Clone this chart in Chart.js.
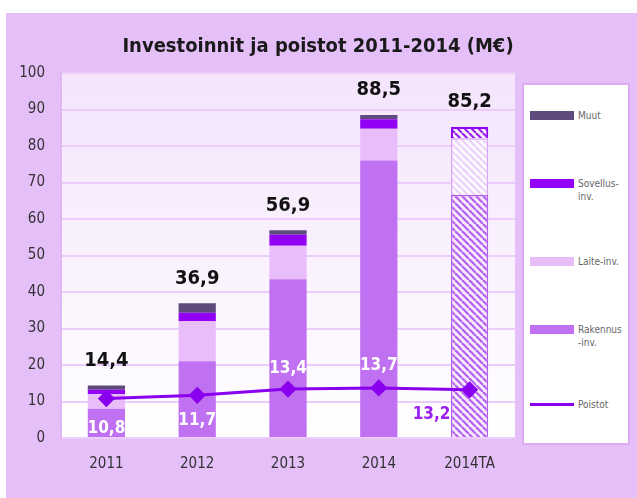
<!DOCTYPE html>
<html>
<head>
<meta charset="utf-8">
<script src="https://cdn.jsdelivr.net/npm/chart.js@4"></script>
<style>
  body { margin: 0; background: #fff; }
  #wrap { position: relative; width: 637px; height: 498px; overflow: hidden; }
  #chart { position: absolute; left: 0; top: 0; }
  #legend {
    position: absolute; left: 522px; top: 83px; width: 108px; height: 362px;
    background: #fff; border: 2px solid #dcaaf5; box-sizing: border-box;
    font-family: "Liberation Sans Narrow", "DejaVu Sans Condensed", Arial, sans-serif;
    font-size: 10px; color: #666;
  }
  .item { position: absolute; left: 6px; display: flex; align-items: flex-start; }
  .sw { width: 44px; height: 9px; margin-right: 4px; margin-top: 2px; position: relative; }
  .lbl { line-height: 13px; }
</style>
</head>
<body>
<div id="wrap">
  <canvas id="chart" width="637" height="498"></canvas>
  <div id="legend"></div>
</div>
<script>
// categories and series (M€)
const years = ['2011', '2012', '2013', '2014', '2014TA'];
const rakennus = [8.0, 21.0, 43.5, 76.0, 66.6];
const laite = [4.0, 11.0, 9.2, 8.7, 15.5];
const sovellus = [1.2, 2.3, 3.0, 2.6, 3.1];
const muut = [1.2, 2.6, 1.2, 1.2, 0];
const poistot = [10.8, 11.7, 13.4, 13.7, 13.2];
const totals = [14.4, 36.9, 56.9, 88.5, 85.2];
const yTicks = [0, 10, 20, 30, 40, 50, 60, 70, 80, 90, 100];
const titleText = 'Investoinnit ja poistot 2011-2014 (M€)';

const narrow = '"Liberation Sans Narrow", "DejaVu Sans Condensed", Arial, sans-serif';

const colRak = '#c071f2';
const colLaite = '#e9bdf9';
const colSov = '#9200f5';
const colMuut = '#5e4a7c';
const colLine = '#8a00ee';

function stripes(fg, bg) {
    const c = document.createElement('canvas');
    c.width = 7; c.height = 7;
    const g = c.getContext('2d');
    g.fillStyle = bg;
    g.fillRect(0, 0, 7, 7);
    g.strokeStyle = fg;
    g.lineWidth = 2.2;
    for (let k = -7; k <= 7; k += 7) {
        g.beginPath();
        g.moveTo(k, 0);
        g.lineTo(k + 7, 7);
        g.stroke();
    }
    return g.createPattern(c, 'repeat');
}

function withLast(arr, last) {
    return arr.map((v, i) => i === arr.length - 1 ? last : v);
}

const hatchRak = stripes('#b65ef0', '#f6eafd');
const hatchLaite = stripes('#ecd0fa', '#fdfaff');
const hatchSov = stripes('#9a20f2', '#fbf4ff');

// lavender frame, plot background and title
const bgPlugin = {
    id: 'bg',
    beforeDraw(chart) {
        const ctx = chart.ctx;
        const a = chart.chartArea;
        ctx.save();
        ctx.fillStyle = '#e5bff8';
        ctx.fillRect(6, 13, 631, 485);
        const grad = ctx.createLinearGradient(0, a.top, 0, a.bottom);
        grad.addColorStop(0, '#f4e4fc');
        grad.addColorStop(1, '#ffffff');
        ctx.fillStyle = grad;
        ctx.fillRect(a.left, a.top, a.right - a.left, a.bottom - a.top);
        ctx.fillStyle = '#1a1a1a';
        ctx.font = 'bold 20px ' + narrow;
        ctx.textAlign = 'center';
        ctx.textBaseline = 'middle';
        ctx.fillText(titleText, 318, 47);
        ctx.restore();
    }
};

// value labels: totals above the bars, poistot near the line
const poistoOffsets = [[0, 30], [0, 25], [0, -21], [0, -22], [-38, 25]];
const labelPlugin = {
    id: 'labels',
    afterDatasetsDraw(chart) {
        const ctx = chart.ctx;
        const x = chart.scales.x;
        const y = chart.scales.y;
        ctx.save();
        ctx.textAlign = 'center';
        ctx.textBaseline = 'middle';
        ctx.font = 'bold 20px ' + narrow;
        ctx.fillStyle = '#111';
        totals.forEach((t, i) => {
            ctx.fillText(t.toFixed(1).replace('.', ','), x.getPixelForValue(i), y.getPixelForValue(t) - 25);
        });
        ctx.font = 'bold 17px ' + narrow;
        poistot.forEach((p, i) => {
            ctx.fillStyle = i === 4 ? '#9a1ff0' : '#ffffff';
            ctx.fillText(p.toFixed(1).replace('.', ','),
                x.getPixelForValue(i) + poistoOffsets[i][0], y.getPixelForValue(p) + poistoOffsets[i][1]);
        });
        ctx.restore();
    }
};

const chart = new Chart(document.getElementById('chart'), {
    data: {
        labels: years,
        datasets: [
            {
                type: 'line', label: 'Poistot', data: poistot, stack: 'line',
                borderColor: colLine, backgroundColor: colLine, borderWidth: 3,
                pointStyle: 'rectRot', pointRadius: 6.5, pointHoverRadius: 6.5, order: 0
            },
            {
                type: 'bar', label: 'Rakennus -inv.', data: rakennus, stack: 'inv',
                backgroundColor: withLast(rakennus.map(() => colRak), hatchRak),
                borderColor: withLast(rakennus.map(() => colRak), '#b45ef0'),
                borderWidth: withLast(rakennus.map(() => 0), 1.5), order: 1
            },
            {
                type: 'bar', label: 'Laite-inv.', data: laite, stack: 'inv',
                backgroundColor: withLast(laite.map(() => colLaite), hatchLaite),
                borderColor: withLast(laite.map(() => colLaite), '#d8a6f6'),
                borderWidth: withLast(laite.map(() => 0), 1.5), order: 1
            },
            {
                type: 'bar', label: 'Sovellus-inv.', data: sovellus, stack: 'inv',
                backgroundColor: withLast(sovellus.map(() => colSov), hatchSov),
                borderColor: withLast(sovellus.map(() => colSov), colSov),
                borderWidth: withLast(sovellus.map(() => 0), 2), order: 1
            },
            {
                type: 'bar', label: 'Muut', data: muut, stack: 'inv',
                backgroundColor: colMuut, borderWidth: 0, order: 1
            }
        ]
    },
    options: {
        responsive: false,
        animation: false,
        layout: { padding: { top: 73, right: 122, bottom: 0, left: 0 } },
        datasets: { bar: { barPercentage: 0.41, categoryPercentage: 1 } },
        plugins: {
            legend: { display: false },
            tooltip: { enabled: false },
            title: { display: false }
        },
        scales: {
            x: {
                stacked: true,
                grid: { display: false, drawTicks: false },
                border: { display: false },
                ticks: { color: '#333', font: { family: narrow, size: 15 }, padding: 17 },
                afterFit(s) { s.height = 60; }
            },
            y: {
                stacked: true,
                min: 0, max: 100,
                afterBuildTicks(s) { s.ticks = yTicks.map(v => ({ value: v })); },
                grid: { color: '#ecccfa', lineWidth: 2, drawTicks: false },
                border: { display: true, color: '#e0b6f7', width: 2 },
                ticks: { color: '#333', font: { family: narrow, size: 15 }, padding: 16 },
                afterFit(s) { s.width = 61; }
            }
        }
    },
    plugins: [bgPlugin, labelPlugin]
});

// legend built from the datasets, top to bottom like the original
const legendTops = [24, 92, 170, 238, 313];
const legendOrder = ['Muut', 'Sovellus-inv.', 'Laite-inv.', 'Rakennus -inv.', 'Poistot'];
const legendText = { 'Sovellus-inv.': 'Sovellus-<br>inv.', 'Rakennus -inv.': 'Rakennus<br>-inv.' };
const legendSolid = { 'Muut': colMuut, 'Sovellus-inv.': colSov, 'Laite-inv.': colLaite, 'Rakennus -inv.': colRak };
const legend = document.getElementById('legend');
legendOrder.forEach((name, i) => {
    const item = document.createElement('div');
    item.className = 'item';
    item.style.top = legendTops[i] + 'px';
    const sw = document.createElement('div');
    sw.className = 'sw';
    if (name === 'Poistot') {
        sw.style.height = '3px';
        sw.style.marginTop = '5px';
        sw.style.background = colLine;
    } else {
        sw.style.background = legendSolid[name];
    }
    const lbl = document.createElement('div');
    lbl.className = 'lbl';
    lbl.innerHTML = legendText[name] || name;
    item.appendChild(sw);
    item.appendChild(lbl);
    legend.appendChild(item);
});
</script>
</body>
</html>
